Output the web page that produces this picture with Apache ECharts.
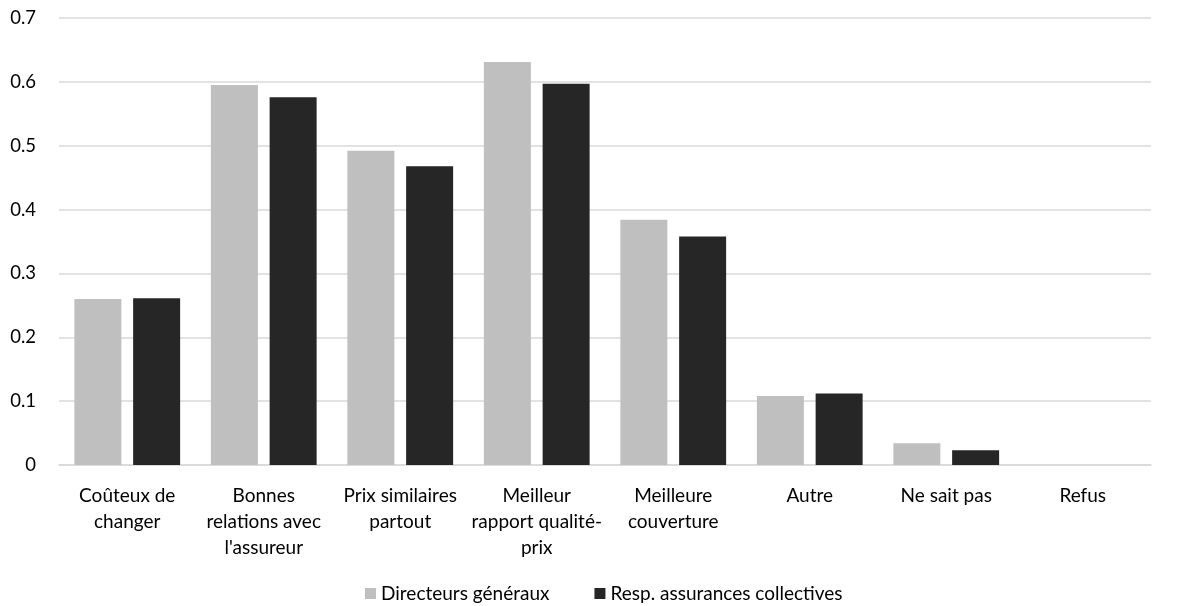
<!DOCTYPE html>
<html>
<head>
<meta charset="utf-8">
<script src="https://cdn.jsdelivr.net/npm/echarts@6/dist/echarts.min.js"></script>
<style>
  html, body { margin: 0; padding: 0; background: #ffffff; }
  #chart { width: 1178px; height: 606px; }
</style>
</head>
<body>
<div id="chart"></div>
<script>
// Reasons for staying with the current insurer, by respondent group
const categories = [
  "Coûteux de\nchanger",
  "Bonnes\nrelations avec\nl'assureur",
  "Prix similaires\npartout",
  "Meilleur\nrapport qualité-\nprix",
  "Meilleure\ncouverture",
  "Autre",
  "Ne sait pas",
  "Refus"
];
const seriesNames = ["Directeurs généraux", "Resp. assurances collectives"];
const directeurs = [0.260, 0.595, 0.492, 0.631, 0.384, 0.108, 0.034, 0];
const responsables = [0.261, 0.576, 0.468, 0.597, 0.358, 0.112, 0.023, 0];
const yTicks = { min: 0, max: 0.7, interval: 0.1 };

const font = "Lato, 'Open Sans', sans-serif";
const chart = echarts.init(document.getElementById('chart'));
chart.setOption({
  animation: false,
  backgroundColor: '#ffffff',
  textStyle: { fontFamily: font },
  grid: { left: 59, right: 27, top: 18, bottom: 141, containLabel: false },
  legend: {
    top: 584,
    left: 365,
    padding: 0,
    itemWidth: 11,
    itemHeight: 11,
    itemGap: 45,
    icon: 'rect',
    textStyle: { fontFamily: font, fontSize: 19, color: '#000000' },
    data: seriesNames
  },
  xAxis: {
    type: 'category',
    data: categories,
    axisLine: { lineStyle: { color: '#d9d9d9', width: 1.5 } },
    axisTick: { show: false },
    axisLabel: {
      interval: 0,
      margin: 18,
      fontFamily: font,
      fontSize: 19,
      lineHeight: 26,
      color: '#000000'
    }
  },
  yAxis: {
    type: 'value',
    min: yTicks.min,
    max: yTicks.max,
    interval: yTicks.interval,
    axisLine: { show: false },
    axisTick: { show: false },
    splitLine: { lineStyle: { color: '#d9d9d9', width: 1.5 } },
    axisLabel: {
      margin: 23,
      fontFamily: font,
      fontSize: 18.5,
      color: '#000000',
      formatter: v => String(Math.round(v * 10) / 10)
    }
  },
  series: [
    {
      name: seriesNames[0],
      type: 'bar',
      data: directeurs,
      barWidth: 47,
      barGap: '25%',
      itemStyle: { color: '#bfbfbf' }
    },
    {
      name: seriesNames[1],
      type: 'bar',
      data: responsables,
      barWidth: 47,
      itemStyle: { color: '#262626' }
    }
  ]
});
</script>
</body>
</html>
